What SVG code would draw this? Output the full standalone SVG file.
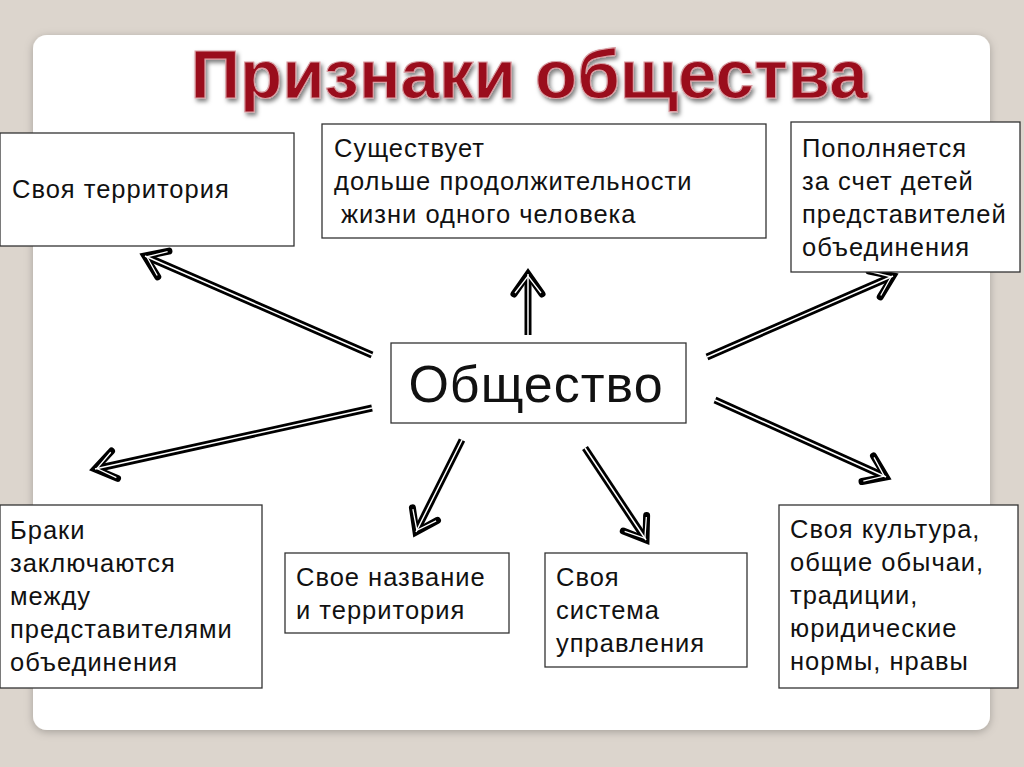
<svg xmlns="http://www.w3.org/2000/svg" width="1024" height="767" viewBox="0 0 1024 767">
<style>
.box{fill:#fff;stroke:#333;stroke-width:1.3}
.t{font-family:"Liberation Sans",Arial,sans-serif;font-size:25.5px;letter-spacing:1px;fill:#111}
.ob{stroke:#000;stroke-width:7;fill:none;marker-end:url(#hb)}
.iw{stroke:#fff;stroke-width:1.5;fill:none;marker-end:url(#hw)}
</style>
<defs>
<marker id="hb" markerUnits="userSpaceOnUse" viewBox="-30 -20 40 40" markerWidth="40" markerHeight="40" refX="0" refY="0" orient="auto" overflow="visible"><path d="M-20,-14 L0,0 L-20,14" fill="none" stroke="#000" stroke-width="7" stroke-linecap="round" stroke-linejoin="miter"/></marker>
<marker id="hw" markerUnits="userSpaceOnUse" viewBox="-30 -20 40 40" markerWidth="40" markerHeight="40" refX="0" refY="0" orient="auto" overflow="visible"><path d="M-19,-13 L-2,0 L-19,13" fill="none" stroke="#fff" stroke-width="1.3"/></marker>
<filter id="sh" x="-5%" y="-20%" width="110%" height="150%"><feDropShadow dx="2" dy="3" stdDeviation="2" flood-color="#000" flood-opacity="0.5"/></filter>
<filter id="ps" x="-5%" y="-5%" width="110%" height="110%"><feDropShadow dx="0" dy="2" stdDeviation="4" flood-color="#000" flood-opacity="0.25"/></filter>
</defs>
<rect width="1024" height="767" fill="#dcd5cd"/>
<rect x="33" y="35" width="957" height="695" rx="14" fill="#fff" filter="url(#ps)"/>
<text x="529" y="98" text-anchor="middle" font-family="Liberation Sans,Arial,sans-serif" font-weight="bold" font-size="69" fill="#9a0e1c" stroke="#d9a0a5" stroke-width="1.2" filter="url(#sh)">Признаки общества</text>
<g id="connectors">
<line class="ob" x1="372" y1="355" x2="145" y2="256"/><line class="iw" x1="372" y1="355" x2="145" y2="256"/>
<line class="ob" x1="528" y1="335" x2="528" y2="274"/><line class="iw" x1="528" y1="335" x2="528" y2="274"/>
<line class="ob" x1="707" y1="357" x2="893" y2="276"/><line class="iw" x1="707" y1="357" x2="893" y2="276"/>
<line class="ob" x1="372" y1="408" x2="95" y2="469"/><line class="iw" x1="372" y1="408" x2="95" y2="469"/>
<line class="ob" x1="462" y1="440" x2="416" y2="532"/><line class="iw" x1="462" y1="440" x2="416" y2="532"/>
<line class="ob" x1="585" y1="448" x2="646" y2="540"/><line class="iw" x1="585" y1="448" x2="646" y2="540"/>
<line class="ob" x1="715" y1="400" x2="886" y2="477"/><line class="iw" x1="715" y1="400" x2="886" y2="477"/>
</g>
<g id="n1"><rect class="box" x="0" y="133" width="294" height="113"/><text class="t" x="12" y="198">Своя территория</text></g>
<g id="n2"><rect class="box" x="322" y="124" width="444" height="114"/><text class="t" x="334" y="157">Существует</text><text class="t" x="334" y="190">дольше продолжительности</text><text class="t" x="341" y="223">жизни одного человека</text></g>
<g id="n3"><rect class="box" x="791" y="122" width="229" height="150"/><text class="t" x="802" y="157">Пополняется</text><text class="t" x="802" y="190">за счет детей</text><text class="t" x="802" y="223">представителей</text><text class="t" x="802" y="256">объединения</text></g>
<g id="center"><rect class="box" x="391" y="343" width="295" height="80"/><text x="536" y="402" text-anchor="middle" font-family="Liberation Sans,Arial,sans-serif" font-size="52" letter-spacing="1" fill="#111">Общество</text></g>
<g id="n4"><rect class="box" x="0" y="505" width="262" height="183"/><text class="t" x="10" y="539">Браки</text><text class="t" x="10" y="572">заключаются</text><text class="t" x="10" y="605">между</text><text class="t" x="10" y="638">представителями</text><text class="t" x="10" y="671">объединения</text></g>
<g id="n5"><rect class="box" x="285" y="553" width="224" height="80"/><text class="t" x="296" y="586">Свое название</text><text class="t" x="296" y="619">и территория</text></g>
<g id="n6"><rect class="box" x="545" y="553" width="202" height="114"/><text class="t" x="556" y="586">Своя</text><text class="t" x="556" y="619">система</text><text class="t" x="556" y="652">управления</text></g>
<g id="n7"><rect class="box" x="779" y="505" width="239" height="183"/><text class="t" x="790" y="538">Своя культура,</text><text class="t" x="790" y="571">общие обычаи,</text><text class="t" x="790" y="604">традиции,</text><text class="t" x="790" y="637">юридические</text><text class="t" x="790" y="670">нормы, нравы</text></g>
</svg>
